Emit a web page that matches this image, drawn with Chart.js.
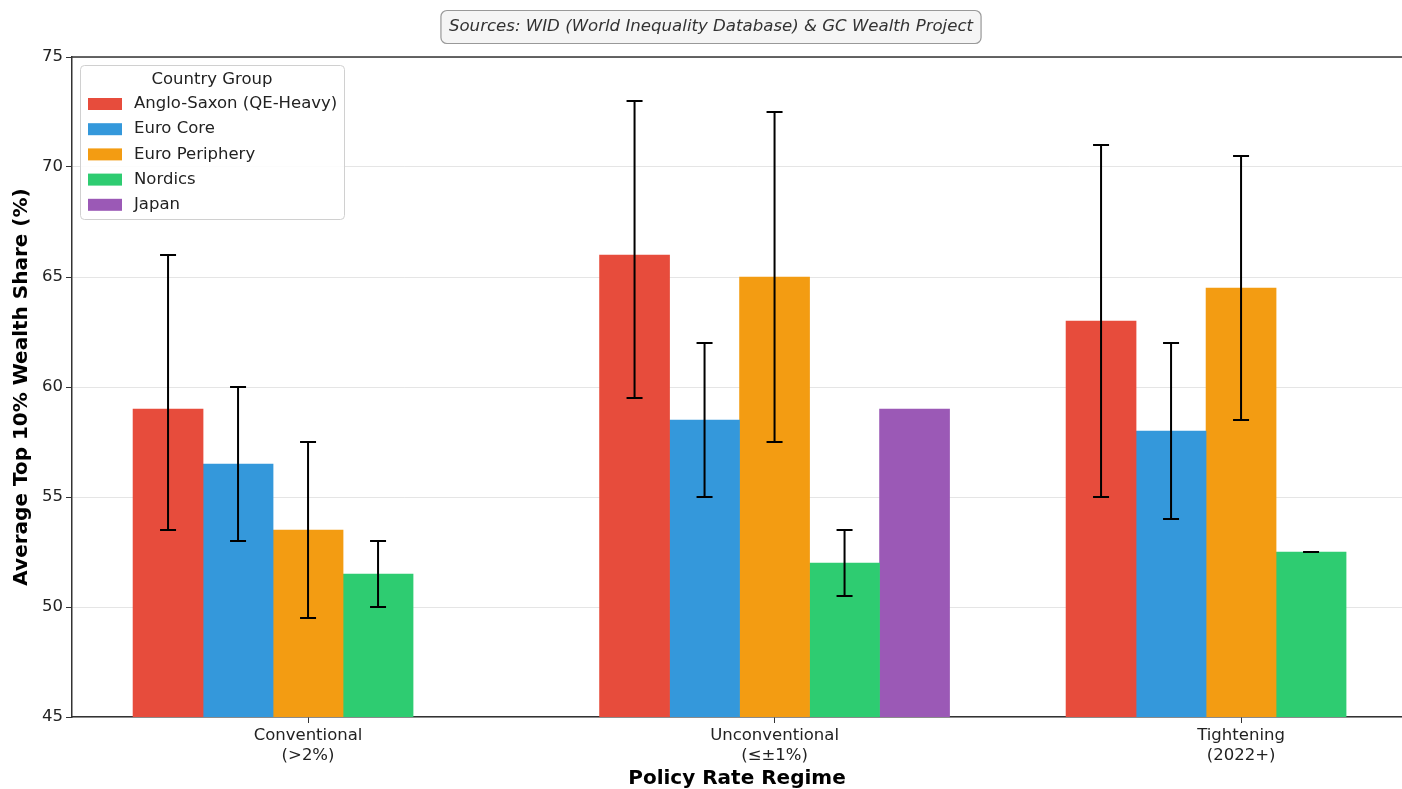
<!DOCTYPE html>
<html lang="en">
<head>
    <meta charset="UTF-8">
    <title>Top 10% Wealth Share by Policy Rate Regime</title>
    <script src="https://cdn.jsdelivr.net/npm/chart.js"></script>
    <style>
        html, body { margin: 0; padding: 0; background: #fff; overflow: hidden; }
        #wrap { width: 1402px; height: 789px; position: relative; }
    </style>
</head>
<body>
    <div id="wrap">
        <canvas id="wealthChart"></canvas>
    </div>

    <script>
        // categories on the x axis
        const regimes = [
            ["Conventional", "(>2%)"],
            ["Unconventional", "(\u2264\u00b11%)"],
            ["Tightening", "(2022+)"]
        ];
        const yTicks = [45, 50, 55, 60, 65, 70, 75];

        // series (average top 10% wealth share, %)
        const groupNames = ["Anglo-Saxon (QE-Heavy)", "Euro Core", "Euro Periphery", "Nordics", "Japan"];
        const angloSaxon = [59, 66, 63];
        const euroCore = [56.5, 58.5, 58];
        const euroPeriphery = [53.5, 65, 64.5];
        const nordics = [51.5, 52, 52.5];
        const japan = [null, 59, null];

        // error bar ranges (min / max within group)
        const angloLow = [53.5, 59.5, 55];
        const angloHigh = [66, 73, 71];
        const coreLow = [53, 55, 54];
        const coreHigh = [60, 62, 62];
        const periLow = [49.5, 57.5, 58.5];
        const periHigh = [57.5, 72.5, 70.5];
        const nordLow = [50, 50.5, 52.5];
        const nordHigh = [53, 53.5, 52.5];
        const japanLow = [null, null, null];
        const japanHigh = [null, null, null];

        const colores = ["#e74c3c", "#3498db", "#f39c12", "#2ecc71", "#9b59b6"];
        const series = [angloSaxon, euroCore, euroPeriphery, nordics, japan];
        const lows = [angloLow, coreLow, periLow, nordLow, japanLow];
        const highs = [angloHigh, coreHigh, periHigh, nordHigh, japanHigh];

        Chart.defaults.font.family = "'DejaVu Sans', sans-serif";
        Chart.defaults.color = "#222";

        const datasets = series.map((vals, k) => ({
            label: groupNames[k],
            data: vals.map((v, i) => ({ x: i, y: v })),
            backgroundColor: colores[k],
            borderWidth: 0,
            barThickness: 70,
            errLow: lows[k],
            errHigh: highs[k]
        }));

        // error bars
        const errorBars = {
            id: "errorBars",
            afterDatasetsDraw(chart) {
                const ctx = chart.ctx;
                const y = chart.scales.y;
                ctx.save();
                ctx.strokeStyle = "#000";
                ctx.lineWidth = 2;
                chart.data.datasets.forEach((ds, k) => {
                    const meta = chart.getDatasetMeta(k);
                    meta.data.forEach((bar, i) => {
                        const lo = ds.errLow[i], hi = ds.errHigh[i];
                        if (lo == null || hi == null) return;
                        const yl = y.getPixelForValue(lo), yh = y.getPixelForValue(hi);
                        ctx.beginPath();
                        ctx.moveTo(bar.x, yl); ctx.lineTo(bar.x, yh);
                        ctx.moveTo(bar.x - 8, yl); ctx.lineTo(bar.x + 8, yl);
                        ctx.moveTo(bar.x - 8, yh); ctx.lineTo(bar.x + 8, yh);
                        ctx.stroke();
                    });
                });
                ctx.restore();
            }
        };

        // legend box, top spine and source note
        const extras = {
            id: "extras",
            afterDraw(chart) {
                const ctx = chart.ctx;
                const area = chart.chartArea;
                ctx.save();

                // top spine
                ctx.strokeStyle = "#333";
                ctx.lineWidth = 1.5;
                ctx.beginPath();
                ctx.moveTo(area.left, area.top);
                ctx.lineTo(area.right, area.top);
                ctx.stroke();

                // legend
                const lx = area.left + 8, ly = area.top + 8;
                ctx.fillStyle = "rgba(255,255,255,0.85)";
                ctx.strokeStyle = "#d0d0d0";
                ctx.lineWidth = 1;
                ctx.beginPath();
                ctx.roundRect(lx + 0.5, ly + 0.5, 264, 154, 4);
                ctx.fill();
                ctx.stroke();

                ctx.font = "16.5px 'DejaVu Sans'";
                ctx.fillStyle = "#222";
                ctx.textBaseline = "middle";
                ctx.textAlign = "center";
                ctx.fillText("Country Group", lx + 132, ly + 15);
                ctx.textAlign = "left";
                chart.data.datasets.forEach((ds, k) => {
                    const cy = ly + 39 + k * 25.2;
                    ctx.fillStyle = ds.backgroundColor;
                    ctx.fillRect(lx + 8, cy - 6, 34, 12);
                    ctx.fillStyle = "#222";
                    ctx.fillText(ds.label, lx + 54, cy);
                });

                // source note
                const note = "Sources: WID (World Inequality Database) & GC Wealth Project";
                ctx.font = "italic 16.6px 'DejaVu Sans'";
                const tw = ctx.measureText(note).width;
                const cx = 711, cyN = 27;
                ctx.fillStyle = "#f5f5f5";
                ctx.strokeStyle = "#999";
                ctx.lineWidth = 1.2;
                ctx.beginPath();
                ctx.roundRect(cx - tw / 2 - 8, cyN - 16.5, tw + 16, 33, 6);
                ctx.fill();
                ctx.stroke();
                ctx.fillStyle = "#333";
                ctx.textAlign = "center";
                ctx.fillText(note, cx, cyN);

                ctx.restore();
            }
        };

        new Chart(document.getElementById("wealthChart"), {
            type: "bar",
            data: { datasets: datasets },
            options: {
                responsive: true,
                maintainAspectRatio: false,
                animation: false,
                layout: { padding: { top: 57, right: 0, bottom: 0, left: 0 } },
                plugins: {
                    legend: { display: false },
                    tooltip: { enabled: false }
                },
                scales: {
                    x: {
                        type: "linear",
                        offset: false,
                        min: -0.506,
                        max: 2.345,
                        afterBuildTicks: (scale) => {
                            scale.ticks = regimes.map((r, i) => ({ value: i }));
                        },
                        afterFit: (scale) => { scale.height = 72; },
                        ticks: {
                            callback: (v) => regimes[v],
                            font: { size: 16.5 },
                            color: "#222",
                            padding: 3,
                            maxRotation: 0
                        },
                        grid: {
                            offset: false,
                            drawOnChartArea: false,
                            drawTicks: true,
                            tickLength: 6,
                            tickColor: "#333"
                        },
                        border: { color: "#333", width: 1.5 },
                        title: {
                            display: true,
                            text: "Policy Rate Regime",
                            font: { size: 20, weight: "bold", lineHeight: 1 },
                            color: "#000",
                            padding: { top: 0, bottom: 0 }
                        }
                    },
                    y: {
                        min: 45,
                        max: 75,
                        afterBuildTicks: (scale) => {
                            scale.ticks = yTicks.map(v => ({ value: v }));
                        },
                        afterFit: (scale) => { scale.width = 72; },
                        ticks: {
                            font: { size: 16.5 },
                            color: "#222",
                            padding: 3
                        },
                        grid: {
                            color: "rgba(0,0,0,0.1)",
                            lineWidth: 1,
                            tickLength: 6,
                            tickColor: "#333"
                        },
                        border: { color: "#333", width: 1.5 },
                        title: {
                            display: true,
                            text: "Average Top 10% Wealth Share (%)",
                            font: { size: 20, weight: "bold" },
                            color: "#000",
                            padding: { top: 10, bottom: 0 }
                        }
                    }
                }
            },
            plugins: [errorBars, extras]
        });
    </script>
</body>
</html>
